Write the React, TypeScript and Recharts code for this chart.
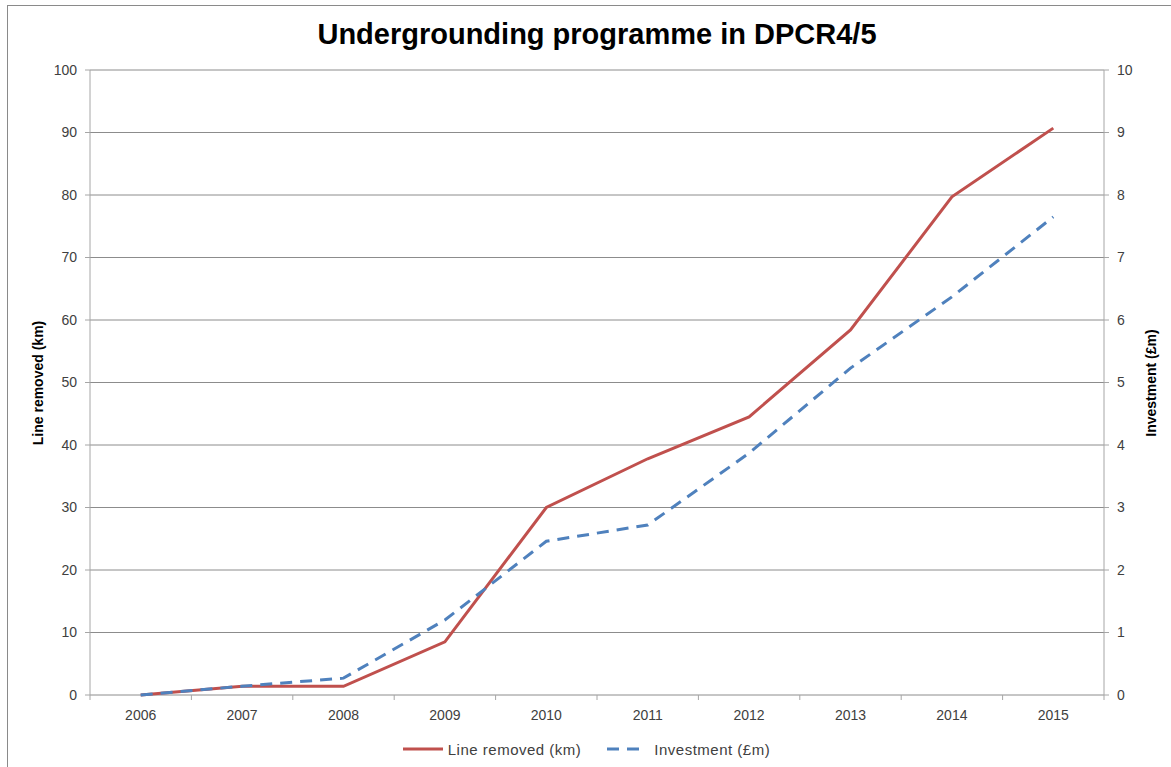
import { CartesianGrid, Label, Legend, Line, LineChart, XAxis, YAxis } from "recharts";

const years = ["2006", "2007", "2008", "2009", "2010", "2011", "2012", "2013", "2014", "2015"];
const lineRemovedKm = [0, 1.4, 1.4, 8.5, 30, 37.8, 44.5, 58.4, 79.7, 90.7];
const investmentGbpM = [0, 0.14, 0.27, 1.2, 2.46, 2.72, 3.87, 5.23, 6.37, 7.65];

const leftTicks = [0, 10, 20, 30, 40, 50, 60, 70, 80, 90, 100];
const rightTicks = [0, 1, 2, 3, 4, 5, 6, 7, 8, 9, 10];

const RED = "#C0504D";
const BLUE = "#4F81BD";
const GRID = "#8c8c8c";
const AXIS = "#a6a6a6";
const FONT = "'Liberation Sans', Arial, sans-serif";

// category centres sit on whole numbers, boundaries on the halves
const xTicks = Array.from({ length: years.length * 2 + 1 }, (_, i) => i / 2 - 0.5);

const data = years.map((year, i) => ({ x: i, year, km: lineRemovedKm[i], invest: investmentGbpM[i] }));

function YearTick(props: any) {
  const { x, y, payload } = props;
  const v = payload.value as number;
  if (Number.isInteger(v)) {
    return (
      <text x={x} y={y + 25} textAnchor="middle" fontSize={14} fill="#404040" fontFamily={FONT}>
        {years[v]}
      </text>
    );
  }
  return <line x1={x} x2={x} y1={y} y2={y + 5} stroke={AXIS} />;
}

function AxisTitle({ x, y, text }: { x: number; y: number; text: string }) {
  return (
    <text
      x={x}
      y={y}
      transform={`rotate(-90, ${x}, ${y})`}
      textAnchor="middle"
      dominantBaseline="central"
      fontSize={14}
      fontWeight="bold"
      fill="#000"
      fontFamily={FONT}
    >
      {text}
    </text>
  );
}

function ChartLegend() {
  return (
    <div
      style={{
        display: "flex",
        justifyContent: "center",
        alignItems: "center",
        height: 28,
        fontFamily: FONT,
        fontSize: 15,
        letterSpacing: 0.5,
        color: "#404040",
        paddingLeft: 2,
      }}
    >
      <svg width={40} height={10}>
        <line x1={0} x2={40} y1={5} y2={5} stroke={RED} strokeWidth={3} />
      </svg>
      <span style={{ marginLeft: 5, marginRight: 26 }}>Line removed (km)</span>
      <svg width={32} height={10}>
        <line x1={0} x2={32} y1={5} y2={5} stroke={BLUE} strokeWidth={3} strokeDasharray="12 8" />
      </svg>
      <span style={{ marginLeft: 15 }}>Investment (£m)</span>
    </div>
  );
}

export default function App() {
  return (
    <div style={{ position: "absolute", left: 0, top: 0, width: 1171, height: 767, overflow: "hidden", background: "#fff" }}>
      <div style={{ position: "absolute", left: 7, top: 5, width: 1200, height: 800, border: "1px solid #8a8a8a" }} />
      <div
        style={{
          position: "absolute",
          left: 0,
          top: 18,
          width: 1194,
          textAlign: "center",
          fontFamily: FONT,
          fontWeight: "bold",
          fontSize: 29,
          color: "#000",
        }}
      >
        Undergrounding programme in DPCR4/5
      </div>
      <LineChart width={1171} height={767} data={data} margin={{ top: 70, right: 0, bottom: 4, left: 0 }} style={{ position: "absolute", left: 0, top: 0 }}>
        <CartesianGrid vertical={false} stroke={GRID} yAxisId="left" />
        <XAxis
          dataKey="x"
          type="number"
          domain={[-0.5, 9.5]}
          ticks={xTicks}
          interval={0}
          height={40}
          tickSize={0}
          tickMargin={0}
          tickLine={false}
          axisLine={false}
          tick={<YearTick />}
        />
        <YAxis
          yAxisId="left"
          domain={[0, 100]}
          ticks={leftTicks}
          width={90}
          stroke={AXIS}
          tickSize={5}
          tickMargin={8}
          tick={{ fontSize: 14, fill: "#404040", fontFamily: FONT }}
        >
          <Label content={() => <AxisTitle x={38} y={383} text="Line removed (km)" />} />
        </YAxis>
        <YAxis
          yAxisId="right"
          orientation="right"
          domain={[0, 10]}
          ticks={rightTicks}
          width={67}
          stroke={AXIS}
          tickSize={5}
          tickMargin={8}
          tick={{ fontSize: 14, fill: "#404040", fontFamily: FONT }}
        >
          <Label content={() => <AxisTitle x={1151} y={383} text="Investment (£m)" />} />
        </YAxis>
        <Legend verticalAlign="bottom" height={28} content={() => <ChartLegend />} />
        <Line
          yAxisId="left"
          type="linear"
          dataKey="km"
          name="Line removed (km)"
          stroke={RED}
          strokeWidth={3}
          dot={false}
          isAnimationActive={false}
        />
        <Line
          yAxisId="right"
          type="linear"
          dataKey="invest"
          name="Investment (£m)"
          stroke={BLUE}
          strokeWidth={3}
          strokeDasharray="12 8"
          dot={false}
          isAnimationActive={false}
        />
      </LineChart>
    </div>
  );
}
